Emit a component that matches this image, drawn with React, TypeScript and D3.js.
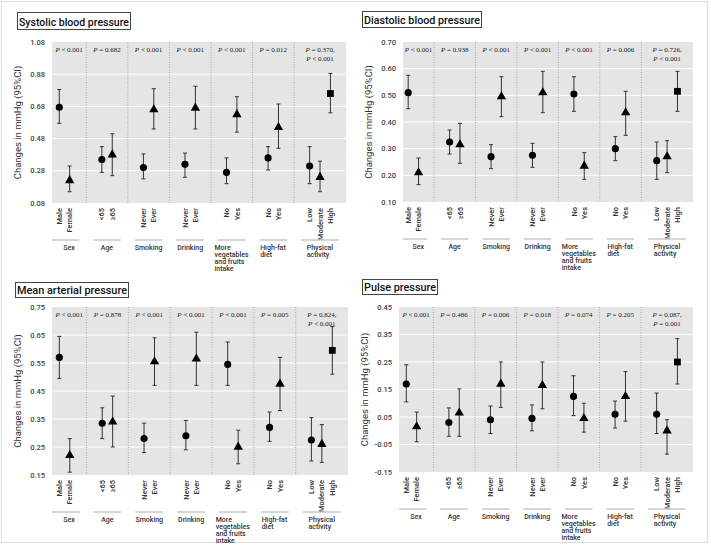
import React, { useEffect, useRef } from "react";
import * as d3 from "d3";

// group labels (multi-line) and categories inside each group
const groupLabels = [["Sex"], ["Age"], ["Smoking"], ["Drinking"], ["More", "vegetables", "and fruits", "intake"], ["High-fat", "diet"], ["Physical", "activity"]];
const categories = [["Male", "Female"], ["<65", "≥65"], ["Never", "Ever"], ["Never", "Ever"], ["No", "Yes"], ["No", "Yes"], ["Low", "Moderate", "High"]];

// Systolic blood pressure
const systolicTicks = [0.08, 0.28, 0.48, 0.68, 0.88, 1.08];
const systolicEst = [0.675, 0.22, 0.35, 0.38, 0.30, 0.66, 0.32, 0.67, 0.27, 0.63, 0.36, 0.55, 0.31, 0.24, 0.76];
const systolicLow = [0.575, 0.15, 0.27, 0.25, 0.23, 0.54, 0.24, 0.54, 0.20, 0.52, 0.285, 0.42, 0.20, 0.15, 0.64];
const systolicHigh = [0.785, 0.31, 0.43, 0.51, 0.385, 0.79, 0.39, 0.805, 0.36, 0.74, 0.43, 0.695, 0.43, 0.34, 0.885];
const systolicP = ["< 0.001", "= 0.682", "< 0.001", "< 0.001", "< 0.001", "= 0.012", "= 0.370,|< 0.001"];

// Diastolic blood pressure
const diastolicTicks = [0.1, 0.2, 0.3, 0.4, 0.5, 0.6, 0.7];
const diastolicEst = [0.51, 0.21, 0.325, 0.315, 0.27, 0.495, 0.275, 0.51, 0.505, 0.235, 0.30, 0.435, 0.255, 0.27, 0.515];
const diastolicLow = [0.45, 0.165, 0.28, 0.245, 0.225, 0.42, 0.23, 0.435, 0.44, 0.185, 0.255, 0.35, 0.185, 0.21, 0.44];
const diastolicHigh = [0.575, 0.265, 0.37, 0.395, 0.315, 0.57, 0.32, 0.59, 0.57, 0.285, 0.345, 0.515, 0.325, 0.33, 0.59];
const diastolicP = ["< 0.001", "= 0.938", "< 0.001", "< 0.001", "< 0.001", "= 0.006", "= 0.726,|< 0.001"];

// Mean arterial pressure
const meanTicks = [0.15, 0.25, 0.35, 0.45, 0.55, 0.65, 0.75];
const meanEst = [0.57, 0.22, 0.335, 0.34, 0.28, 0.555, 0.29, 0.565, 0.545, 0.25, 0.32, 0.475, 0.275, 0.26, 0.595];
const meanLow = [0.495, 0.16, 0.28, 0.25, 0.23, 0.47, 0.24, 0.47, 0.47, 0.19, 0.27, 0.38, 0.20, 0.195, 0.51];
const meanHigh = [0.645, 0.28, 0.39, 0.432, 0.335, 0.64, 0.345, 0.66, 0.625, 0.31, 0.375, 0.57, 0.355, 0.33, 0.68];
const meanP = ["< 0.001", "= 0.878", "< 0.001", "< 0.001", "< 0.001", "= 0.005", "= 0.824,|< 0.001"];

// Pulse pressure
const pulseTicks = [-0.15, -0.05, 0.05, 0.15, 0.25, 0.35, 0.45];
const pulseEst = [0.17, 0.015, 0.03, 0.065, 0.04, 0.17, 0.045, 0.165, 0.125, 0.045, 0.06, 0.125, 0.06, 0.0, 0.25];
const pulseLow = [0.105, -0.04, -0.02, -0.02, -0.01, 0.085, 0.0, 0.08, 0.055, -0.005, 0.01, 0.035, -0.01, -0.085, 0.17];
const pulseHigh = [0.24, 0.068, 0.083, 0.152, 0.09, 0.25, 0.094, 0.25, 0.20, 0.10, 0.108, 0.215, 0.137, 0.04, 0.335];
const pulseP = ["< 0.001", "= 0.486", "= 0.006", "= 0.018", "= 0.074", "= 0.205", "= 0.087,|= 0.001"];

const panels = [
  { title: "Systolic blood pressure", ticks: systolicTicks, est: systolicEst, low: systolicLow, high: systolicHigh, p: systolicP,
    box: { left: 52, right: 346, top: 42, bottom: 203, tx: 17, ty: 12, tw: 113, th: 17, firstUnits: 3.3, firstOffset: 0.7 } },
  { title: "Diastolic blood pressure", ticks: diastolicTicks, est: diastolicEst, low: diastolicLow, high: diastolicHigh, p: diastolicP,
    box: { left: 403, right: 693, top: 42, bottom: 202, tx: 362, ty: 11, tw: 119, th: 16, firstUnits: 3.0, firstOffset: 0.5 } },
  { title: "Mean arterial pressure", ticks: meanTicks, est: meanEst, low: meanLow, high: meanHigh, p: meanP,
    box: { left: 52, right: 348, top: 307, bottom: 475, tx: 15, ty: 282, tw: 113, th: 15, firstUnits: 3.3, firstOffset: 0.7 } },
  { title: "Pulse pressure", ticks: pulseTicks, est: pulseEst, low: pulseLow, high: pulseHigh, p: pulseP,
    box: { left: 399, right: 693, top: 307, bottom: 472, tx: 362, ty: 279, tw: 75, th: 15, firstUnits: 3.3, firstOffset: 0.7 } },
];

const SANS = "Roboto, 'DejaVu Sans', sans-serif";
const SERIF = "'Liberation Serif', 'DejaVu Serif', serif";
const symbols = [d3.symbolCircle, d3.symbolTriangle, d3.symbolSquare];
const symbolSizes = [40, 38, 46];

function Panel({ cfg }: { cfg: any }) {
  const { left, right, top, bottom, tx, ty, tw, th, firstUnits, firstOffset } = cfg.box;
  const y = d3.scaleLinear().domain([cfg.ticks[0], cfg.ticks[cfg.ticks.length - 1]]).range([bottom, top]);
  const sizes = categories.map((c, i) => (i === 0 ? firstUnits : c.length + 2));
  const starts = [0, ...Array.from(d3.cumsum(sizes))];
  const x = d3.scaleLinear().domain([0, d3.sum(sizes)]).range([left, right]);

  const points: any[] = [];
  categories.forEach((cats, g) => {
    cats.forEach((c, j) => {
      const u = g === 0 ? firstOffset + j : starts[g] + 1.5 + j;
      points.push({ g, j, label: c, cx: x(u) });
    });
  });
  points.forEach((p, k) => {
    p.est = cfg.est[k];
    p.low = cfg.low[k];
    p.high = cfg.high[k];
  });

  return (
    <g>
      {/* title */}
      <rect x={tx + 0.5} y={ty + 0.5} width={tw} height={th} fill="#fff" stroke="#444" strokeWidth={1} />
      <text x={tx + 2} y={ty + th - 3.5} fontFamily={SANS} fontSize={11.5} fontWeight={500} fill="#111"
        textLength={tw - 3} lengthAdjust="spacingAndGlyphs">{cfg.title}</text>

      {/* panel background */}
      <rect x={left} y={top} width={right - left} height={bottom - top} fill="#e5e5e5" />
      {cfg.ticks.slice(1, -1).map((t: number) => (
        <line key={t} x1={left} x2={right} y1={y(t)} y2={y(t)} stroke="#fff" strokeWidth={1} />
      ))}
      {starts.slice(1, -1).map((s, i) => (
        <line key={i} x1={x(s)} x2={x(s)} y1={top} y2={bottom} stroke="#9a9a9a" strokeWidth={0.8} strokeDasharray="1,1.5" />
      ))}

      {/* y axis */}
      {cfg.ticks.map((t: number) => (
        <text key={t} x={left - 7} y={y(t)} dy="0.35em" textAnchor="end" fontFamily={SANS} fontSize={7.5} fontWeight={500} fill="#444">
          {t.toFixed(2)}
        </text>
      ))}
      <text transform={`translate(${left - 31},${(top + bottom) / 2}) rotate(-90)`} textAnchor="middle" fontFamily={SANS}
        fontSize={9.5} fill="#333">Changes in mmHg (95%CI)</text>

      {/* p values */}
      {cfg.p.map((s: string, g: number) => {
        const cx = (x(starts[g]) + x(starts[g + 1])) / 2 + (g === 0 ? 0 : 0);
        return s.split("|").map((line, li) => (
          <text key={g + "-" + li} x={cx} y={top + 10 + li * 8.5} textAnchor="middle" fontFamily={SERIF} fontSize={7} fill="#222">
            <tspan fontStyle="italic">P</tspan>
            <tspan>{" " + line}</tspan>
          </text>
        ));
      })}

      {/* error bars + markers */}
      {points.map((p, k) => (
        <g key={k}>
          <line x1={p.cx} x2={p.cx} y1={y(p.low)} y2={y(p.high)} stroke="#333" strokeWidth={1} />
          <line x1={p.cx - 2} x2={p.cx + 2} y1={y(p.low)} y2={y(p.low)} stroke="#333" strokeWidth={1} />
          <line x1={p.cx - 2} x2={p.cx + 2} y1={y(p.high)} y2={y(p.high)} stroke="#333" strokeWidth={1} />
          <path transform={`translate(${p.cx},${y(p.est)})`} d={d3.symbol(symbols[p.j], symbolSizes[p.j])() as string} fill="#000" />
        </g>
      ))}

      {/* category labels */}
      {points.map((p, k) => (
        <text key={"c" + k} transform={`translate(${p.cx},${bottom + 5}) rotate(-90)`} dy="0.35em" textAnchor="end"
          fontFamily={SANS} fontSize={7.5} fontWeight={500} fill="#333">{p.label}</text>
      ))}

      {/* group lines and labels */}
      {groupLabels.map((lines, g) => {
        const x1 = g === 0 ? left : x(starts[g]) + 7;
        const x2 = x(starts[g + 1]) - 7;
        const cx = (x(starts[g]) + x(starts[g + 1])) / 2;
        return (
          <g key={"g" + g}>
            <line x1={x1} x2={x2} y1={bottom + 37} y2={bottom + 37} stroke="#c8c8c8" strokeWidth={1.5} />
            <text className="glabel" data-cx={cx} y={bottom + 45} fontFamily={SANS} fontSize={7} fontWeight={500} fill="#333">
              {lines.map((l, li) => (
                <tspan key={li} x={cx} y={bottom + 45 + li * 7} dy="0.35em">{l}</tspan>
              ))}
            </text>
          </g>
        );
      })}
    </g>
  );
}

export default function App() {
  const ref = useRef<SVGSVGElement>(null);
  useEffect(() => {
    if (!ref.current) return;
    d3.select(ref.current).selectAll<SVGTextElement, unknown>("text.glabel").each(function () {
      const cx = +(this.getAttribute("data-cx") || 0);
      const w = this.getBBox().width;
      d3.select(this).selectAll("tspan").attr("x", cx - w / 2);
    });
  }, []);
  return (
    <svg ref={ref} width={711} height={545} style={{ position: "absolute", left: 0, top: 0, background: "#fff" }}>
      <rect x={1.5} y={1.5} width={706} height={541} fill="none" stroke="#dcdcdc" />
      {panels.map((p, i) => (
        <Panel key={i} cfg={p} />
      ))}
    </svg>
  );
}
